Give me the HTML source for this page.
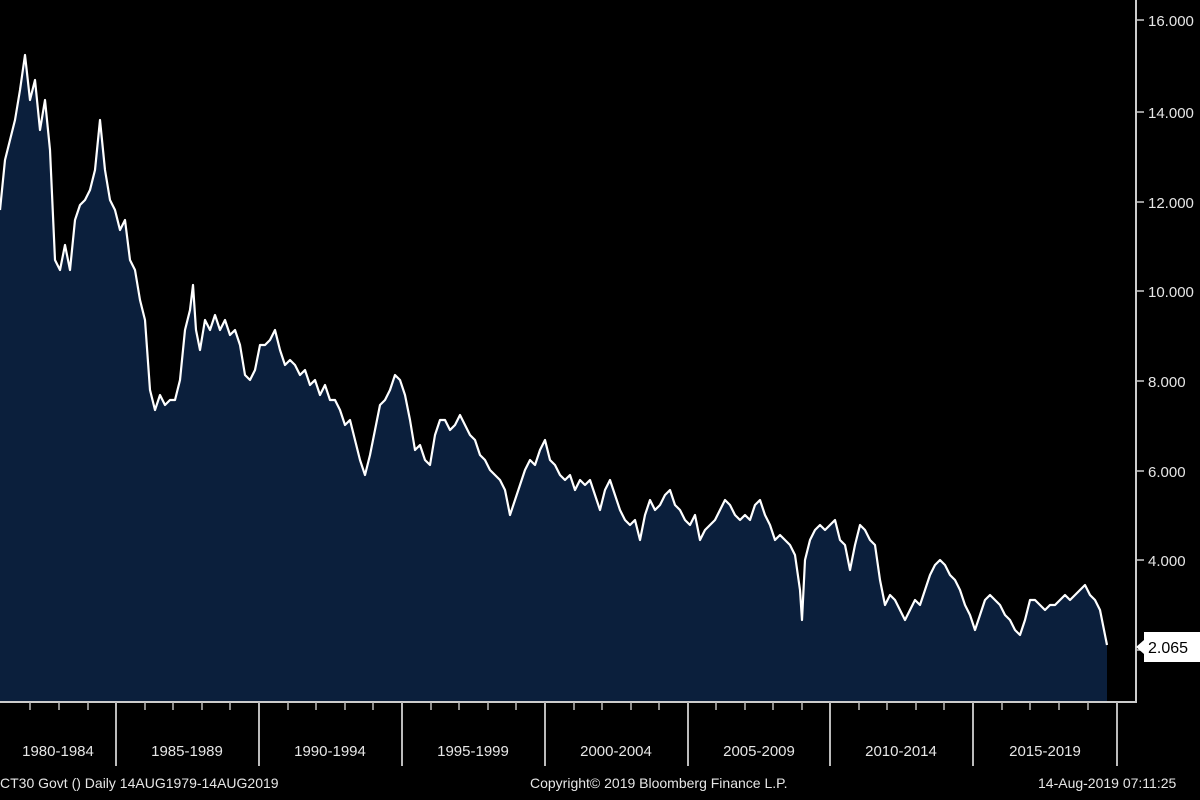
<!DOCTYPE html>
<html><head><meta charset="utf-8"><style>
html,body{margin:0;padding:0;background:#000;}
svg{display:block;}
text{font-family:"Liberation Sans",sans-serif;}
</style></head><body>
<svg width="1200" height="800" viewBox="0 0 1200 800" xmlns="http://www.w3.org/2000/svg">
<rect width="1200" height="800" fill="#000"/>
<polygon fill="#0b1f3c" points="0,702 0,210 5,160 10,140 15,120 20,90 25,55 30,100 35,80 40,130 45,100 50,150 55,260 60,270 65,245 70,270 75,220 80,205 85,200 90,190 95,170 100,120 105,170 110,200 115,210 120,230 125,220 130,260 135,270 140,300 145,320 150,390 155,410 160,395 165,405 170,400 175,400 180,380 185,330 190,310 193,285 196,330 200,350 205,320 210,330 215,315 220,330 225,320 230,335 235,330 240,345 245,375 250,380 255,370 260,345 265,345 270,340 275,330 280,350 285,365 290,360 295,365 300,375 305,370 310,385 315,380 320,395 325,385 330,400 335,400 340,410 345,425 350,420 355,440 360,460 365,475 370,455 375,430 380,405 385,400 390,390 395,375 400,380 405,395 410,420 415,450 420,445 425,460 430,465 435,435 440,420 445,420 450,430 455,425 460,415 465,425 470,435 475,440 480,455 485,460 490,470 495,475 500,480 505,490 510,515 515,500 520,485 525,470 530,460 535,465 540,450 545,440 550,460 555,465 560,475 565,480 570,475 575,490 580,480 585,485 590,480 595,495 600,510 605,490 610,480 615,495 620,510 625,520 630,525 635,520 640,540 645,515 650,500 655,510 660,505 665,495 670,490 675,505 680,510 685,520 690,525 695,515 700,540 705,530 710,525 715,520 720,510 725,500 730,505 735,515 740,520 745,515 750,520 755,505 760,500 765,515 770,525 775,540 780,535 785,540 790,545 795,555 800,590 802,620 805,560 810,540 815,530 820,525 825,530 830,525 835,520 840,540 845,545 850,570 855,545 860,525 865,530 870,540 875,545 880,580 885,605 890,595 895,600 900,610 905,620 910,610 915,600 920,605 925,590 930,575 935,565 940,560 945,565 950,575 955,580 960,590 965,605 970,615 975,630 980,615 985,600 990,595 995,600 1000,605 1005,615 1010,620 1015,630 1020,635 1025,620 1030,600 1035,600 1040,605 1045,610 1050,605 1055,605 1060,600 1065,595 1070,600 1075,595 1080,590 1085,585 1090,595 1095,600 1100,610 1104,630 1107,645 1107,702"/>
<polyline fill="none" stroke="#fff" stroke-width="2.2" stroke-linejoin="round" points="0,210 5,160 10,140 15,120 20,90 25,55 30,100 35,80 40,130 45,100 50,150 55,260 60,270 65,245 70,270 75,220 80,205 85,200 90,190 95,170 100,120 105,170 110,200 115,210 120,230 125,220 130,260 135,270 140,300 145,320 150,390 155,410 160,395 165,405 170,400 175,400 180,380 185,330 190,310 193,285 196,330 200,350 205,320 210,330 215,315 220,330 225,320 230,335 235,330 240,345 245,375 250,380 255,370 260,345 265,345 270,340 275,330 280,350 285,365 290,360 295,365 300,375 305,370 310,385 315,380 320,395 325,385 330,400 335,400 340,410 345,425 350,420 355,440 360,460 365,475 370,455 375,430 380,405 385,400 390,390 395,375 400,380 405,395 410,420 415,450 420,445 425,460 430,465 435,435 440,420 445,420 450,430 455,425 460,415 465,425 470,435 475,440 480,455 485,460 490,470 495,475 500,480 505,490 510,515 515,500 520,485 525,470 530,460 535,465 540,450 545,440 550,460 555,465 560,475 565,480 570,475 575,490 580,480 585,485 590,480 595,495 600,510 605,490 610,480 615,495 620,510 625,520 630,525 635,520 640,540 645,515 650,500 655,510 660,505 665,495 670,490 675,505 680,510 685,520 690,525 695,515 700,540 705,530 710,525 715,520 720,510 725,500 730,505 735,515 740,520 745,515 750,520 755,505 760,500 765,515 770,525 775,540 780,535 785,540 790,545 795,555 800,590 802,620 805,560 810,540 815,530 820,525 825,530 830,525 835,520 840,540 845,545 850,570 855,545 860,525 865,530 870,540 875,545 880,580 885,605 890,595 895,600 900,610 905,620 910,610 915,600 920,605 925,590 930,575 935,565 940,560 945,565 950,575 955,580 960,590 965,605 970,615 975,630 980,615 985,600 990,595 995,600 1000,605 1005,615 1010,620 1015,630 1020,635 1025,620 1030,600 1035,600 1040,605 1045,610 1050,605 1055,605 1060,600 1065,595 1070,600 1075,595 1080,590 1085,585 1090,595 1095,600 1100,610 1104,630 1107,645"/>
<!-- axes -->
<line x1="0" y1="702" x2="1137" y2="702" stroke="#ccc" stroke-width="2"/>
<line x1="1136" y1="0" x2="1136" y2="703" stroke="#ccc" stroke-width="2"/>
<g stroke="#bbb" stroke-width="2">
<line x1="116" y1="702" x2="116" y2="766"/><line x1="259" y1="702" x2="259" y2="766"/><line x1="402" y1="702" x2="402" y2="766"/><line x1="545" y1="702" x2="545" y2="766"/><line x1="688" y1="702" x2="688" y2="766"/><line x1="830" y1="702" x2="830" y2="766"/><line x1="973" y1="702" x2="973" y2="766"/><line x1="1117" y1="702" x2="1117" y2="766"/>
</g>
<g stroke="#bbb" stroke-width="1.5">
<line x1="30" y1="702" x2="30" y2="710"/><line x1="59" y1="702" x2="59" y2="710"/><line x1="88" y1="702" x2="88" y2="710"/>
<line x1="145" y1="702" x2="145" y2="710"/><line x1="173" y1="702" x2="173" y2="710"/><line x1="202" y1="702" x2="202" y2="710"/><line x1="230" y1="702" x2="230" y2="710"/>
<line x1="288" y1="702" x2="288" y2="710"/><line x1="316" y1="702" x2="316" y2="710"/><line x1="345" y1="702" x2="345" y2="710"/><line x1="373" y1="702" x2="373" y2="710"/>
<line x1="431" y1="702" x2="431" y2="710"/><line x1="459" y1="702" x2="459" y2="710"/><line x1="488" y1="702" x2="488" y2="710"/><line x1="516" y1="702" x2="516" y2="710"/>
<line x1="574" y1="702" x2="574" y2="710"/><line x1="602" y1="702" x2="602" y2="710"/><line x1="631" y1="702" x2="631" y2="710"/><line x1="659" y1="702" x2="659" y2="710"/>
<line x1="716" y1="702" x2="716" y2="710"/><line x1="745" y1="702" x2="745" y2="710"/><line x1="773" y1="702" x2="773" y2="710"/><line x1="802" y1="702" x2="802" y2="710"/>
<line x1="859" y1="702" x2="859" y2="710"/><line x1="887" y1="702" x2="887" y2="710"/><line x1="916" y1="702" x2="916" y2="710"/><line x1="944" y1="702" x2="944" y2="710"/>
<line x1="1002" y1="702" x2="1002" y2="710"/><line x1="1030" y1="702" x2="1030" y2="710"/><line x1="1059" y1="702" x2="1059" y2="710"/><line x1="1088" y1="702" x2="1088" y2="710"/>
</g>
<g stroke="#ccc" stroke-width="1.5">
<line x1="1136" y1="20" x2="1144" y2="20"/><line x1="1136" y1="112" x2="1144" y2="112"/><line x1="1136" y1="202" x2="1144" y2="202"/><line x1="1136" y1="291" x2="1144" y2="291"/><line x1="1136" y1="381" x2="1144" y2="381"/><line x1="1136" y1="471" x2="1144" y2="471"/><line x1="1136" y1="560" x2="1144" y2="560"/><line x1="1136" y1="650" x2="1144" y2="650"/>
</g>
<g fill="#e6e6e6" font-size="15">
<text x="1148" y="26">16.000</text><text x="1148" y="118">14.000</text><text x="1148" y="208">12.000</text><text x="1148" y="297">10.000</text><text x="1148" y="387">8.000</text><text x="1148" y="477">6.000</text><text x="1148" y="566">4.000</text>
</g>
<rect x="1144" y="632" width="56" height="30" fill="#fff"/>
<polygon points="1136,647 1144,640 1144,654" fill="#fff"/>
<text x="1148" y="653" font-size="16" fill="#000">2.065</text>
<g fill="#e6e6e6" font-size="15" text-anchor="middle">
<text x="58" y="756">1980-1984</text><text x="187" y="756">1985-1989</text><text x="330" y="756">1990-1994</text><text x="473" y="756">1995-1999</text><text x="616" y="756">2000-2004</text><text x="759" y="756">2005-2009</text><text x="901" y="756">2010-2014</text><text x="1045" y="756">2015-2019</text>
</g>
<g fill="#e6e6e6" font-size="14">
<text x="0" y="788">CT30 Govt ()  Daily 14AUG1979-14AUG2019</text>
<text x="530" y="788">Copyright© 2019 Bloomberg Finance L.P.</text>
<text x="1038" y="788">14-Aug-2019 07:11:25</text>
</g>
</svg>
</body></html>
